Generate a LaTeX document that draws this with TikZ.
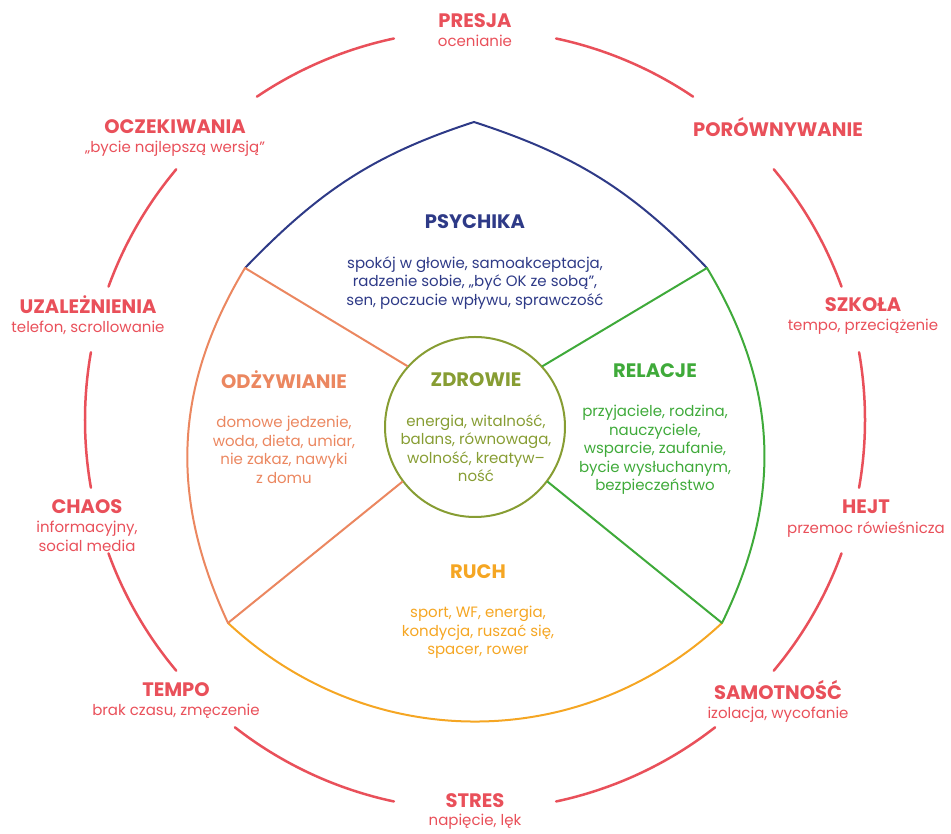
\documentclass[tikz,border=0pt]{standalone}
\usepackage{fontspec}
\setmainfont{Poppins}
\usetikzlibrary{positioning}

\definecolor{ringred}{HTML}{E9505A}
\definecolor{psynavy}{HTML}{2E3A87}
\definecolor{foodorange}{HTML}{EB8760}
\definecolor{healtholive}{HTML}{879D33}
\definecolor{relgreen}{HTML}{3FAA3A}
\definecolor{moveyellow}{HTML}{F5A623}

\newcommand{\headfnt}{\fontsize{19.5}{22}\selectfont\bfseries}
\newcommand{\bodyfnt}{\fontsize{15}{18.5}\selectfont}

\tikzset{
  head/.style={font=\headfnt,text=#1,inner sep=0pt},
  body/.style={font=\bodyfnt,text=#1,align=center,inner sep=0pt},
  ring/.style={draw=ringred,line width=2.5pt},
  rim/.style={draw=#1,line width=2pt},
  core/.style={circle,draw=healtholive,line width=2pt,minimum size=180pt,inner sep=0pt}
}

\begin{document}
\begin{tikzpicture}[x=1pt,y=1pt,line cap=round]
  \useasboundingbox (0,0) rectangle (951,834);

  % outer ring, broken where the labels sit
  \foreach \a/\b in {102/124,140/160,170/190,200/220,232/258,282/308,320/340,350/370,20/40,56/78}
    \draw[ring] (475,414) ++(\a:390pt) arc[start angle=\a,end angle=\b,radius=390pt];

  % corners of the inner shape
  \coordinate (tl) at (245,566);
  \coordinate (apex) at (474,712);
  \coordinate (tr) at (707,566);
  \coordinate (br) at (722,211);
  \coordinate (bl) at (228,211);

  \draw[rim=psynavy] (tl) to[out=46,in=198] (apex) to[out=-18,in=134] (tr);
  \draw[rim=relgreen] (tr) to[out=-59,in=64] (br);
  \draw[rim=moveyellow] (br) to[out=-137,in=-43] (bl);
  \draw[rim=foodorange] (bl) to[out=115,in=-121] (tl);

  \node[core] (zdr) at (475,407) {};
  \draw[rim=foodorange] (tl) -- (zdr.138);
  \draw[rim=relgreen] (tr) -- (zdr.42);
  \draw[rim=foodorange] (bl) -- (zdr.217);
  \draw[rim=relgreen] (br) -- (zdr.323);

  % inner fields
  \node[head=psynavy] (psychika) at (475,612) {PSYCHIKA};
  \node[body=psynavy,below=27pt of psychika] (psychikatxt)
    {spokój w głowie, samoakceptacja,\\radzenie sobie, „być OK ze sobą”,\\sen, poczucie wpływu, sprawczość};
  \node[head=foodorange] (odzywianie) at (284,454) {ODŻYWIANIE};
  \node[body=foodorange,below=27pt of odzywianie] (odzywianietxt)
    {domowe jedzenie,\\woda, dieta, umiar,\\nie zakaz, nawyki\\z domu};
  \node[head=healtholive] (zdrowie) at (476,454) {ZDROWIE};
  \node[body=healtholive,below=27pt of zdrowie] (zdrowietxt)
    {energia, witalność,\\balans, równowaga,\\wolność, kreatyw--\\ność};
  \node[head=relgreen] (relacje) at (655,463) {RELACJE};
  \node[body=relgreen,below=27pt of relacje] (relacjetxt)
    {przyjaciele, rodzina,\\nauczyciele,\\wsparcie, zaufanie,\\bycie wysłuchanym,\\bezpieczeństwo};
  \node[head=moveyellow] (ruch) at (478,262) {RUCH};
  \node[body=moveyellow,below=27pt of ruch] (ruchtxt)
    {sport, WF, energia,\\kondycja, ruszać się,\\spacer, rower};

  % labels on the ring
  \node[head=ringred] (presja) at (475,813) {PRESJA};
  \node[body=ringred,below=7pt of presja] (presjatxt) {ocenianie};
  \node[head=ringred] (oczekiwania) at (175,707) {OCZEKIWANIA};
  \node[body=ringred,below=7pt of oczekiwania] (oczekiwaniatxt) {„bycie najlepszą wersją”};
  \node[head=ringred] (porownywanie) at (778,707) {PORÓWNYWANIE};
  \node[head=ringred] (uzaleznienia) at (88,529) {UZALEŻNIENIA};
  \node[body=ringred,below=7pt of uzaleznienia] (uzaleznieniatxt) {telefon, scrollowanie};
  \node[head=ringred] (szkola) at (863,529) {SZKOŁA};
  \node[body=ringred,below=7pt of szkola] (szkolatxt) {tempo, przeciążenie};
  \node[head=ringred] (chaos) at (87,327) {CHAOS};
  \node[body=ringred,below=7pt of chaos] (chaostxt) {informacyjny,\\social media};
  \node[head=ringred] (hejt) at (866,327) {HEJT};
  \node[body=ringred,below=7pt of hejt] (hejttxt) {przemoc rówieśnicza};
  \node[head=ringred] (tempo) at (176,144) {TEMPO};
  \node[body=ringred,below=7pt of tempo] (tempotxt) {brak czasu, zmęczenie};
  \node[head=ringred] (samotnosc) at (778,144) {SAMOTNOŚĆ};
  \node[body=ringred,below=7pt of samotnosc] (samotnosctxt) {izolacja, wycofanie};
  \node[head=ringred] (stres) at (475,33) {STRES};
  \node[body=ringred,below=6pt of stres] (strestxt) {napięcie, lęk};
\end{tikzpicture}
\end{document}
